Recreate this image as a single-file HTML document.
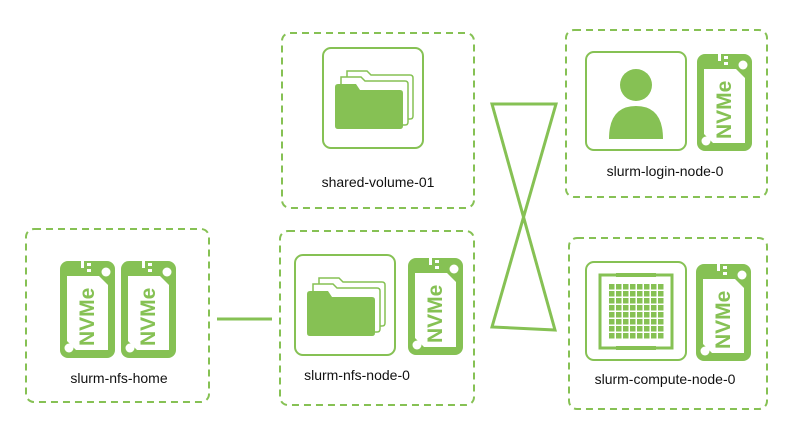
<!DOCTYPE html>
<html><head><meta charset="utf-8"><style>
body{margin:0;background:#fff;width:792px;height:432px;overflow:hidden}
text{font-family:"Liberation Sans",sans-serif;font-size:14px;fill:#111}
</style></head><body>
<svg width="792" height="432" viewBox="0 0 792 432" xmlns="http://www.w3.org/2000/svg">
<defs>
<g id="nvme">
  <rect x="0" y="0" width="55" height="97" rx="8" fill="#86c154"/>
  <path d="M7 15 H39 L48 24 V89 H16 L7 80 Z" fill="#fff"/>
  <rect x="21" y="0" width="3" height="7" fill="#fff"/>
  <rect x="27" y="2" width="4" height="3" fill="#fff"/>
  <rect x="27" y="8" width="4" height="3" fill="#fff"/>
  <circle cx="46" cy="11" r="4.5" fill="#fff"/>
  <circle cx="9" cy="87" r="4.5" fill="#fff"/>
  <text transform="translate(34 85) rotate(-90)" style="font-size:21px;font-weight:bold;fill:#86c154">NVMe</text>
</g>
<g id="folder">
  <rect x="0" y="0" width="100" height="100" rx="8" fill="none" stroke="#86c154" stroke-width="2"/>
  <path d="M24 23 H44 L48 27 H87 Q90 27 90 30 V68 Q90 71 87 71 H24 Z" fill="#fff" stroke="#86c154" stroke-width="1.5"/>
  <path d="M18 29 H38 L42 33 H82 Q85 33 85 36 V74 Q85 77 82 77 H18 Z" fill="#fff" stroke="#86c154" stroke-width="1.5"/>
  <path d="M12 39 Q12 36 15 36 H33 L37 42 H77 Q80 42 80 45 V78 Q80 81 77 81 H15 Q12 81 12 78 Z" fill="#86c154"/>
</g>
<pattern id="grid" x="609" y="284" width="7" height="7" patternUnits="userSpaceOnUse"><rect width="5.5" height="5.5" fill="#86c154"/></pattern>
</defs>
<g fill="none" stroke="#86c154" stroke-width="2" stroke-dasharray="7,5">
  <rect x="26" y="229" width="183" height="173" rx="8"/>
  <rect x="282" y="33" width="192" height="175" rx="8"/>
  <rect x="280" y="231" width="194" height="174" rx="8"/>
  <rect x="566" y="30" width="201" height="167" rx="8"/>
  <rect x="569" y="238" width="198" height="171" rx="8"/>
</g>
<g stroke="#86c154" stroke-width="3" fill="none">
  <line x1="217" y1="319" x2="272" y2="319"/>
  <path d="M492 104 H556 L492 327 L555 330 Z"/>
</g>
<use href="#folder" x="323" y="48"/>
<text x="378" y="187" text-anchor="middle">shared-volume-01</text>
<use href="#folder" x="295" y="255"/>
<use href="#nvme" x="408" y="258"/>
<text x="357" y="380" text-anchor="middle">slurm-nfs-node-0</text>
<use href="#nvme" x="60" y="261"/>
<use href="#nvme" x="121" y="261"/>
<text x="119" y="383" text-anchor="middle">slurm-nfs-home</text>
<rect x="586" y="52" width="100" height="98" rx="8" fill="none" stroke="#86c154" stroke-width="2"/>
<circle cx="636" cy="85" r="16" fill="#86c154"/>
<path d="M609 139 Q609 106 636 106 Q663 106 663 139 Z" fill="#86c154"/>
<use href="#nvme" x="697" y="54"/>
<text x="665" y="176" text-anchor="middle">slurm-login-node-0</text>
<rect x="586" y="262" width="100" height="98" rx="8" fill="none" stroke="#86c154" stroke-width="2"/>
<path d="M600 275 H672 V348 H600 Z" fill="none" stroke="#86c154" stroke-width="3"/>
<rect x="616" y="273" width="40" height="4" fill="#86c154"/>
<rect x="616" y="346" width="40" height="4" fill="#86c154"/>
<rect x="609" y="284" width="55" height="55" fill="url(#grid)"/>
<use href="#nvme" x="696" y="264"/>
<text x="665" y="384" text-anchor="middle">slurm-compute-node-0</text>
</svg>
</body></html>
